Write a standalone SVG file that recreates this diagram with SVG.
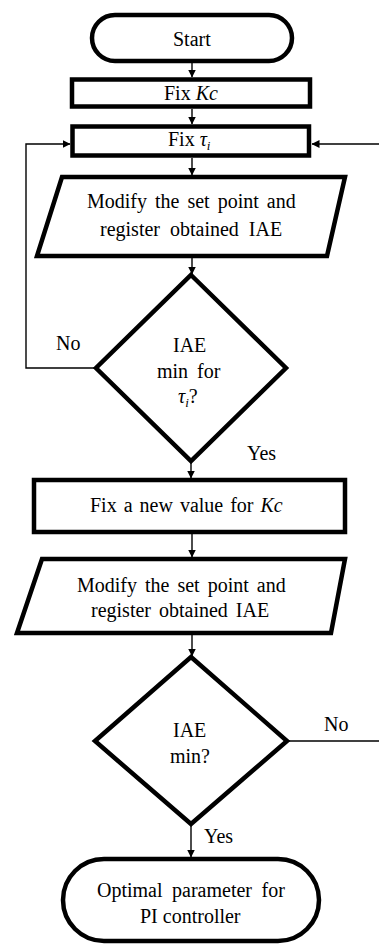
<svg xmlns="http://www.w3.org/2000/svg" width="379" height="945" viewBox="0 0 379 945">
<defs>
<marker id="a" markerWidth="8" markerHeight="8" refX="7.5" refY="4" orient="auto" markerUnits="userSpaceOnUse">
<path d="M0,0 L8,4 L0,8 Z" fill="#000"/>
</marker>
</defs>
<g id="connectors" fill="none" stroke="#000" stroke-width="1.4">
<line x1="192" y1="63" x2="192" y2="77" marker-end="url(#a)"/>
<line x1="192" y1="109" x2="192" y2="124" marker-end="url(#a)"/>
<line x1="192" y1="158" x2="192" y2="175" marker-end="url(#a)"/>
<line x1="192" y1="258" x2="192" y2="274" marker-end="url(#a)"/>
<polyline points="96,368 26,368 26,144 70,144" marker-end="url(#a)"/>
<line x1="379" y1="144" x2="312" y2="144" marker-end="url(#a)"/>
<line x1="191" y1="461" x2="191" y2="478" marker-end="url(#a)"/>
<line x1="192" y1="534" x2="192" y2="557" marker-end="url(#a)"/>
<line x1="192" y1="635" x2="192" y2="656" marker-end="url(#a)"/>
<line x1="287" y1="741" x2="379" y2="741"/>
<line x1="191" y1="824" x2="191" y2="857" marker-end="url(#a)"/>
</g>
<g id="start">
<rect x="92" y="15" width="200" height="46" rx="23" fill="#fff" stroke="#000" stroke-width="4.5"/>
<text font-family="Liberation Serif" font-size="20" x="173" y="46">Start</text>
</g>
<g id="fixKc">
<rect x="72" y="79.5" width="238" height="27" fill="#fff" stroke="#000" stroke-width="4.5"/>
<text font-family="Liberation Serif" font-size="20" x="164" y="100">Fix <tspan font-style="italic">Kc</tspan></text>
</g>
<g id="fixTau">
<rect x="72.5" y="126.5" width="236.5" height="29" fill="#fff" stroke="#000" stroke-width="4.5"/>
<text font-family="Liberation Serif" font-size="20" x="168" y="146">Fix <tspan font-style="italic">τ<tspan font-size="13" dy="4">i</tspan></tspan></text>
</g>
<g id="modify1">
<polygon points="62,177 345,177 327,256 37,256" fill="#fff" stroke="#000" stroke-width="4.5"/>
<text font-family="Liberation Serif" font-size="20" x="87" y="208" word-spacing="3">Modify the set point and</text>
<text font-family="Liberation Serif" font-size="20" x="100" y="236" word-spacing="5">register obtained IAE</text>
</g>
<g id="decision1">
<polygon points="191,275 286,368 191,461 96,368" fill="#fff" stroke="#000" stroke-width="4.5"/>
<text font-family="Liberation Serif" font-size="20" x="173" y="352">IAE</text>
<text font-family="Liberation Serif" font-size="20" x="157" y="378" word-spacing="4">min for</text>
<text font-family="Liberation Serif" font-size="20" x="178" y="403"><tspan font-style="italic">τ<tspan font-size="13" dy="4">i</tspan></tspan><tspan dy="-4">?</tspan></text>
</g>
<text font-family="Liberation Serif" font-size="20" x="56" y="350">No</text>
<text font-family="Liberation Serif" font-size="20" x="247" y="460">Yes</text>
<g id="fixNewKc">
<rect x="34" y="480" width="311" height="52" fill="#fff" stroke="#000" stroke-width="4.5"/>
<text font-family="Liberation Serif" font-size="20" x="90" y="512" word-spacing="2">Fix a new value for <tspan font-style="italic">Kc</tspan></text>
</g>
<g id="modify2">
<polygon points="42,559 345,559 331,633 17,633" fill="#fff" stroke="#000" stroke-width="4.5"/>
<text font-family="Liberation Serif" font-size="20" x="77" y="592" word-spacing="3">Modify the set point and</text>
<text font-family="Liberation Serif" font-size="20" x="91" y="617" word-spacing="3">register obtained IAE</text>
</g>
<g id="decision2">
<polygon points="191,657 287,741 191,824 95,741" fill="#fff" stroke="#000" stroke-width="4.5"/>
<text font-family="Liberation Serif" font-size="20" x="173" y="737">IAE</text>
<text font-family="Liberation Serif" font-size="20" x="170" y="763">min?</text>
</g>
<text font-family="Liberation Serif" font-size="20" x="324" y="731">No</text>
<text font-family="Liberation Serif" font-size="20" x="204" y="843">Yes</text>
<g id="end">
<rect x="63" y="859" width="256" height="82" rx="41" fill="#fff" stroke="#000" stroke-width="4.5"/>
<text font-family="Liberation Serif" font-size="20" x="97" y="897" word-spacing="4.5">Optimal parameter for</text>
<text font-family="Liberation Serif" font-size="20" x="140" y="923">PI controller</text>
</g>
</svg>
